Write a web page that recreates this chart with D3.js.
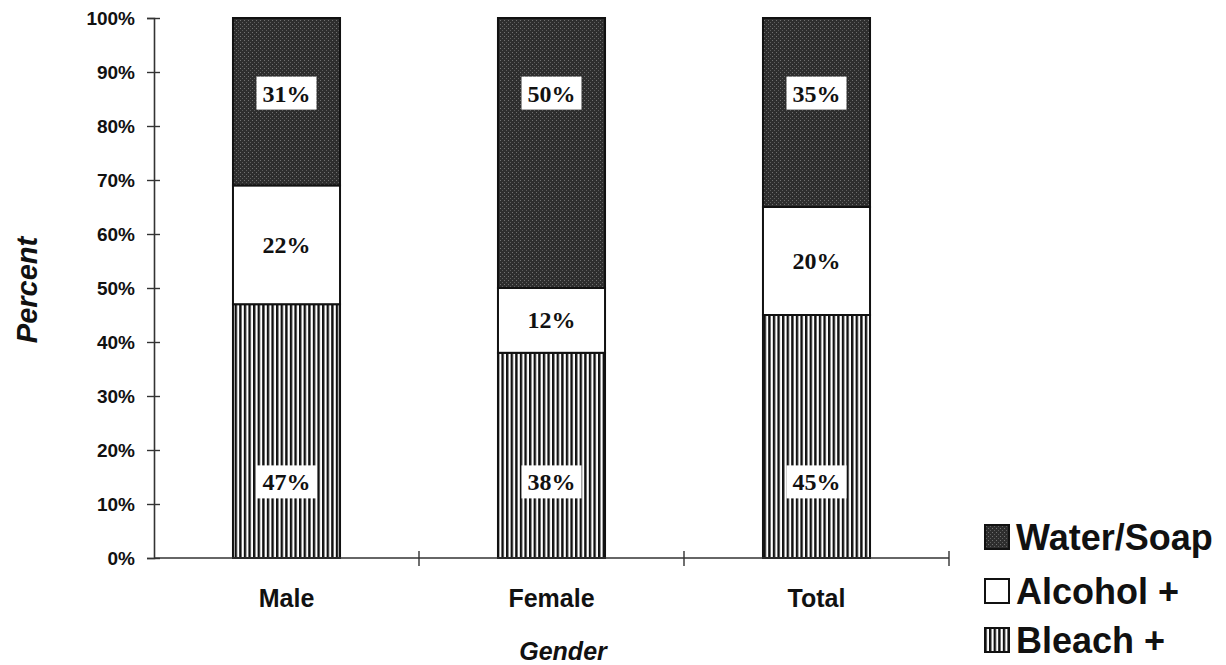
<!DOCTYPE html>
<html>
<head>
<meta charset="utf-8">
<script src="https://cdn.jsdelivr.net/npm/d3@7/dist/d3.min.js"></script>
<style>
  html, body { margin: 0; padding: 0; background: #ffffff; }
  svg { display: block; }
</style>
</head>
<body>
<svg id="chart" width="1226" height="665"></svg>
<script>
// Share of hand-cleaning method by gender (stacked to 100%)
const categories = ["Male", "Female", "Total"];
const seriesNames = ["Bleach +", "Alcohol +", "Water/Soap"];
const bleach = [47, 38, 45];
const alcohol = [22, 12, 20];
const waterSoap = [31, 50, 35];
const yTicks = [0, 10, 20, 30, 40, 50, 60, 70, 80, 90, 100];
const legendOrder = ["Water/Soap", "Alcohol +", "Bleach +"];

const svg = d3.select("#chart");
const defs = svg.append("defs");

// Dark stippled fill
const stipple = defs.append("pattern")
  .attr("id", "stipple").attr("patternUnits", "userSpaceOnUse")
  .attr("width", 4).attr("height", 4);
stipple.append("rect").attr("width", 4).attr("height", 4).attr("fill", "#2e2e2e");
stipple.append("rect").attr("x", 0).attr("y", 0).attr("width", 1).attr("height", 1).attr("fill", "#727272");
stipple.append("rect").attr("x", 2).attr("y", 2).attr("width", 1).attr("height", 1).attr("fill", "#5e5e5e");

// Vertical stripe fill
const stripes = defs.append("pattern")
  .attr("id", "stripes").attr("patternUnits", "userSpaceOnUse")
  .attr("width", 4.6).attr("height", 10);
stripes.append("rect").attr("width", 4.6).attr("height", 10).attr("fill", "#ffffff");
stripes.append("rect").attr("x", 0).attr("width", 2.4).attr("height", 10).attr("fill", "#111111");

const fills = {
  "Bleach +": "url(#stripes)",
  "Alcohol +": "#ffffff",
  "Water/Soap": "url(#stipple)"
};

const plotLeft = 154, plotRight = 949, plotTop = 18, plotBottom = 558;

const x = d3.scaleBand().domain(categories).range([plotLeft, plotRight])
  .paddingInner(0.596).paddingOuter(0.298);
const y = d3.scaleLinear().domain([0, 100]).range([plotBottom, plotTop]);

const rows = categories.map((c, i) => ({
  cat: c, "Bleach +": bleach[i], "Alcohol +": alcohol[i], "Water/Soap": waterSoap[i]
}));
const stacked = d3.stack().keys(seriesNames)(rows);

// Bars
const layers = svg.append("g").selectAll("g").data(stacked).join("g")
  .attr("fill", d => fills[d.key]);
layers.selectAll("rect").data(d => d).join("rect")
  .attr("x", d => x(d.data.cat))
  .attr("y", d => y(d[1]))
  .attr("width", x.bandwidth())
  .attr("height", d => y(d[0]) - y(d[1]))
  .attr("stroke", "#111").attr("stroke-width", 2);

// Y axis
const yAxis = d3.axisLeft(y).tickValues(yTicks).tickFormat(d => d + "%")
  .tickSize(7).tickPadding(12);
const gy = svg.append("g").attr("transform", `translate(${plotLeft},0)`).call(yAxis);
gy.select(".domain").attr("stroke", "#333").attr("stroke-width", 1.6);
gy.selectAll(".tick line").attr("stroke", "#333").attr("stroke-width", 1.4).attr("x2", 6).attr("x1", -7);
gy.selectAll(".tick text")
  .attr("font-family", "'Liberation Sans', Arial, sans-serif")
  .attr("font-weight", "bold").attr("font-size", 19).attr("fill", "#111");

// X axis: line with crossing ticks at category boundaries
const gx = svg.append("g");
gx.append("line").attr("x1", plotLeft).attr("x2", plotRight).attr("y1", plotBottom).attr("y2", plotBottom)
  .attr("stroke", "#333").attr("stroke-width", 1.6);
const bounds = categories.map(c => x(c) - x.step() * x.paddingOuter() + x.step());
gx.selectAll("line.tk").data(bounds).join("line").attr("class", "tk")
  .attr("x1", d => d).attr("x2", d => d)
  .attr("y1", plotBottom - 7).attr("y2", plotBottom + 8)
  .attr("stroke", "#333").attr("stroke-width", 1.4);
gx.selectAll("text").data(categories).join("text")
  .attr("x", d => x(d) + x.bandwidth() / 2)
  .attr("y", 607)
  .attr("text-anchor", "middle")
  .attr("font-family", "'Liberation Sans', Arial, sans-serif")
  .attr("font-weight", "bold").attr("font-size", 25).attr("fill", "#111")
  .text(d => d);

// Axis titles
svg.append("text")
  .attr("transform", `translate(37,290) rotate(-90)`)
  .attr("text-anchor", "middle")
  .attr("font-family", "'Liberation Sans', Arial, sans-serif")
  .attr("font-weight", "bold").attr("font-style", "italic")
  .attr("font-size", 29).attr("fill", "#111")
  .text("Percent");
svg.append("text")
  .attr("x", 563).attr("y", 660)
  .attr("text-anchor", "middle")
  .attr("font-family", "'Liberation Sans', Arial, sans-serif")
  .attr("font-weight", "bold").attr("font-style", "italic")
  .attr("font-size", 25).attr("fill", "#111")
  .text("Gender");

// Value labels
const labelFont = "'Liberation Serif', 'Times New Roman', serif";
const labelPos = {
  "Water/Soap": () => 86,
  "Alcohol +": d => (d[0] + d[1]) / 2,
  "Bleach +": () => 14
};
stacked.forEach(layer => {
  layer.forEach(d => {
    const cx = x(d.data.cat) + x.bandwidth() / 2;
    const cy = y(labelPos[layer.key](d));
    const val = d[1] - d[0];
    const g = svg.append("g");
    if (layer.key !== "Alcohol +") {
      g.append("rect")
        .attr("x", cx - 30).attr("y", cy - 17)
        .attr("width", 60).attr("height", 33)
        .attr("fill", "#ffffff");
    }
    g.append("text")
      .attr("x", cx).attr("y", cy + 8)
      .attr("text-anchor", "middle")
      .attr("font-family", labelFont).attr("font-size", 24)
      .attr("font-weight", "bold").attr("fill", "#111")
      .text(val + "%");
  });
});

// Legend
const legend = svg.append("g");
const legendY = [537, 591, 640];
legendOrder.forEach((name, i) => {
  legend.append("rect")
    .attr("x", 985).attr("y", legendY[i] - 12)
    .attr("width", 24).attr("height", 24)
    .attr("fill", fills[name]).attr("stroke", "#111").attr("stroke-width", 2);
  legend.append("text")
    .attr("x", 1016).attr("y", legendY[i] + 13)
    .attr("font-family", "'Liberation Sans', Arial, sans-serif")
    .attr("font-weight", "bold").attr("font-size", 36).attr("fill", "#111")
    .text(name);
});
</script>
</body>
</html>
